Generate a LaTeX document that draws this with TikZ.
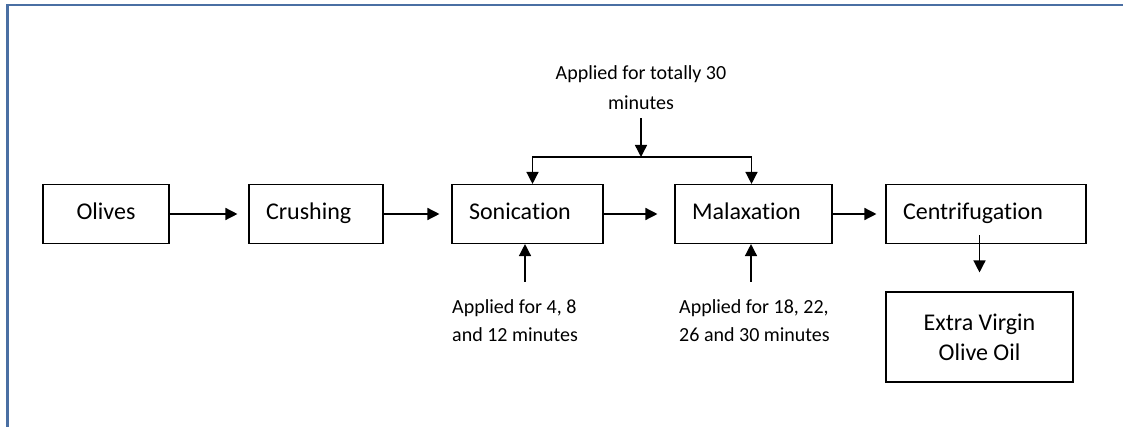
\documentclass[tikz,border=0pt]{standalone}
\usepackage{fontspec}
\setmainfont{Carlito}[Ligatures=NoCommon]
\usetikzlibrary{arrows.meta}
\definecolor{frameblue}{HTML}{4A6FA3}

\begin{document}
\begin{tikzpicture}[x=1pt,y=-1pt,
  box/.style={draw,line width=1.1pt,minimum height=59pt,font=\fontsize{24}{30}\selectfont},
  lbox/.style={box,align=left,inner xsep=17pt,text height=17pt,text depth=6pt},
  note/.style={inner sep=0pt,font=\fontsize{20}{28}\selectfont},
  arr/.style={-{Triangle[length=12pt,width=12pt]},line width=1.4pt}]

\useasboundingbox (0,0) rectangle (1123,427);
\draw[frameblue,line width=2.5pt] (7.5,427) -- (7.5,5) -- (1123,5);

\node[box,minimum width=126pt,text height=17pt,text depth=6pt] (olives) at (106,214) {Olives};
\node[lbox,text width=100pt] (crush) at (316,214) {Crushing};
\node[lbox,text width=117pt] (son) at (527.5,214) {Sonication};
\node[lbox,text width=123pt] (mal) at (753.5,214) {Malaxation};
\node[lbox,text width=166pt] (cent) at (986,214) {Centrifugation};
\node[box,minimum width=187pt,minimum height=90pt,align=center] (evoo) at (979.5,337) {Extra Virgin\\Olive Oil};

\foreach \a/\b/\s in {olives/crush/11,crush/son/12,son/mal/17,mal/cent/9}
  \draw[arr,shorten >=\s pt] (\a) -- (\b);

\draw[arr] ([yshift=9pt]cent.south -| evoo.north) -- ([yshift=19pt]evoo.north);

\node[note,align=center,font=\fontsize{20}{30}\selectfont] (total) at (641,88) {Applied for totally 30\\minutes};
\coordinate (split) at (641,157);
\draw[arr] ([yshift=-8pt]total.south) -- (split);
\draw[arr] (split) -| ([xshift=5pt]son.north);
\draw[arr] (split) -| ([xshift=-2pt]mal.north);

\coordinate (sonin) at (525,282);
\coordinate (malin) at (751,282);
\draw[arr] (sonin) -- (sonin |- son.south);
\draw[arr] (malin) -- (malin |- mal.south);

\node[note,align=left,anchor=west] (sonnote) at (452,321) {Applied for 4, 8\\and 12 minutes};
\node[note,align=left,anchor=west] (malnote) at (679,321) {Applied for 18, 22,\\26 and 30 minutes};
\end{tikzpicture}
\end{document}
